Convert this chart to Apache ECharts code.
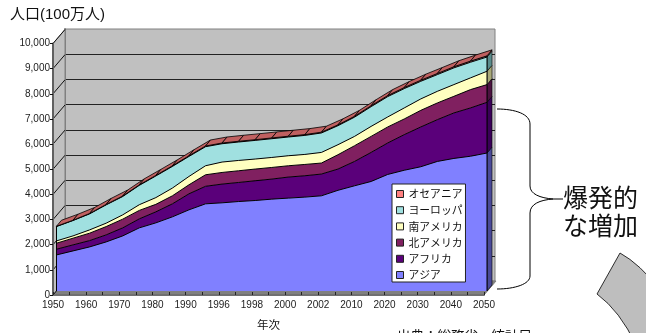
<!DOCTYPE html>
<html lang="ja">
<head>
<meta charset="utf-8">
<title>世界の人口推移</title>
<style>html,body{margin:0;padding:0;background:#fff}#chart{width:646px;height:333px}</style>
<script src="https://cdn.jsdelivr.net/npm/echarts@6/dist/echarts.min.js"></script>
</head>
<body>
<div id="chart"></div>
<script>
// 大陸別の人口（100万人）
const years = ['1950','1955','1960','1965','1970','1975','1980','1985','1990','1995','1996','1997','1998','1999','2000','2001','2002','2005','2010','2015','2020','2025','2030','2035','2040','2045','2050'];
const asia = [1434,1594,1753,1952,2191,2510,2709,2948,3227,3466,3506,3558,3598,3653,3693,3733,3785,4004,4183,4355,4633,4801,4940,5151,5271,5358,5486];
const africa = [227,239,251,279,319,359,438,518,637,697,745,757,785,797,837,849,865,845,968,1155,1251,1414,1582,1661,1809,1920,2016];
const northAmerica = [239,267,295,331,347,335,299,319,359,458,462,466,466,462,450,450,438,570,625,637,637,625,661,665,661,729,705];
const southAmerica = [92,92,131,135,171,227,267,307,331,359,414,410,398,398,398,398,422,398,371,398,398,438,454,462,466,466,530];
const europe = [570,610,637,729,729,769,861,861,797,757,729,733,741,745,745,757,773,757,765,785,809,769,701,665,665,622,566];
const oceania = [13,14,16,18,20,21,23,25,27,29,29,30,30,31,31,32,32,33,35,38,41,42,44,44,45,46,46];
const yTicks = [0,1000,2000,3000,4000,5000,6000,7000,8000,9000,10000];

const FONT = '"Liberation Sans","Noto Sans CJK JP",sans-serif';
const JP = '"Noto Sans CJK JP","Liberation Sans",sans-serif';

// 手前から奥の順に積み上げる
const layers = [
  {name:'アジア', values:asia, color:'#8080ff', side:'#4a4a98'},
  {name:'アフリカ', values:africa, color:'#5a007a', side:'#3a0058'},
  {name:'北アメリカ', values:northAmerica, color:'#802060', side:'#4c1240'},
  {name:'南アメリカ', values:southAmerica, color:'#ffffc0', side:'#a8a878'},
  {name:'ヨーロッパ', values:europe, color:'#a0e0e0', side:'#5a8c8c'},
  {name:'オセアニア', values:oceania, color:'#ff8080', side:'#a05050'}
];

const totals = years.map((_, i) => layers.reduce((s, l) => s + l.values[i], 0));

// 立体の奥行き（ピクセル）
const WALL_DEPTH = [12, -14];
const BAND_DEPTH = [5, -6];

// 注釈の曲線
echarts.graphic.registerShape('brace', echarts.graphic.extendShape({
  shape: {},
  buildPath(ctx) {
    ctx.moveTo(497, 109);
    ctx.bezierCurveTo(515, 109, 530, 114, 530, 124);
    ctx.lineTo(530, 186);
    ctx.bezierCurveTo(530, 194, 540, 198, 553, 199);
    ctx.lineTo(563, 199);
    ctx.moveTo(553, 199);
    ctx.bezierCurveTo(540, 200, 530, 204, 530, 213);
    ctx.lineTo(530, 276);
    ctx.bezierCurveTo(530, 284, 515, 289, 497, 289);
  }
}));
echarts.graphic.registerShape('arcBand', echarts.graphic.extendShape({
  shape: {},
  buildPath(ctx) {
    ctx.moveTo(620, 253);
    ctx.quadraticCurveTo(640, 264, 660, 290);
    ctx.lineTo(660, 345);
    ctx.lineTo(636, 345);
    ctx.quadraticCurveTo(620, 311, 597, 294);
    ctx.closePath();
  }
}));

const areaSeries = layers.map(l => ({
  name: l.name,
  type: 'line',
  stack: 'population',
  xAxisIndex: 2, yAxisIndex: 2,
  showSymbol: false,
  symbol: 'none',
  z: 5,
  lineStyle: {color:'#000', width:1},
  itemStyle: {color:l.color},
  areaStyle: {color:l.color, opacity:1},
  data: l.values
}));

// 左の壁の目盛り線
const wallSeries = {
  type: 'custom',
  xAxisIndex: 0, yAxisIndex: 0,
  z: 2,
  silent: true,
  data: yTicks.map(v => [0, v]),
  renderItem(params, api) {
    const p = api.coord([api.value(0), api.value(1)]);
    return {type:'line',
      shape:{x1:p[0], y1:p[1], x2:p[0]+WALL_DEPTH[0], y2:p[1]+WALL_DEPTH[1]},
      style:{stroke:'#111', lineWidth:1}};
  }
};

// 左の壁と床
const shellSeries = {
  type: 'custom',
  xAxisIndex: 0, yAxisIndex: 0,
  z: 1,
  silent: true,
  data: [[0, years.length-1]],
  renderItem(params, api) {
    const a = api.coord([0, 0]), b = api.coord([0, 10000]), c = api.coord([years.length-1, 0]);
    const d = WALL_DEPTH;
    return {type:'group', children:[
      {type:'polygon', shape:{points:[a,b,[b[0]+d[0],b[1]+d[1]],[a[0]+d[0],a[1]+d[1]]]},
        style:{fill:'#c0c0c0', stroke:'#808080', lineWidth:1}},
      {type:'polygon', shape:{points:[a,c,[c[0]+d[0],c[1]+d[1]],[a[0]+d[0],a[1]+d[1]]]},
        style:{fill:'#808080', stroke:'#808080', lineWidth:1}}
    ]};
  }
};

// 最上段の上面
const topSeries = {
  type: 'custom',
  xAxisIndex: 2, yAxisIndex: 2,
  z: 6,
  silent: true,
  data: totals.slice(0, -1).map((t, i) => [i, t, totals[i+1]]),
  renderItem(params, api) {
    const i = api.value(0);
    const p = api.coord([i, api.value(1)]), q = api.coord([i+1, api.value(2)]);
    const d = BAND_DEPTH;
    return {type:'polygon',
      shape:{points:[p,q,[q[0]+d[0],q[1]+d[1]],[p[0]+d[0],p[1]+d[1]]]},
      style:{fill:'#c06060', stroke:'#000', lineWidth:0.8}};
  }
};

// 2050年の右側面
let base = 0;
const sideData = layers.map((l, k) => {
  const row = [years.length-1, base, base + l.values[years.length-1], k];
  base = row[2];
  return row;
});
const sideSeries = {
  type: 'custom',
  xAxisIndex: 2, yAxisIndex: 2,
  z: 4,
  silent: true,
  data: sideData,
  renderItem(params, api) {
    const x = api.value(0);
    const p = api.coord([x, api.value(1)]), q = api.coord([x, api.value(2)]);
    const d = BAND_DEPTH;
    return {type:'polygon',
      shape:{points:[p,q,[q[0]+d[0],q[1]+d[1]],[p[0]+d[0],p[1]+d[1]]]},
      style:{fill:layers[api.value(3)].side, stroke:'#000', lineWidth:0.6}};
  }
};

// 左右の端の縦線
const edgeSeries = {
  type: 'custom',
  xAxisIndex: 2, yAxisIndex: 2,
  z: 7,
  silent: true,
  data: [[0, totals[0]], [years.length-1, totals[years.length-1]]],
  renderItem(params, api) {
    const x = api.value(0);
    const p = api.coord([x, 0]), q = api.coord([x, api.value(1)]);
    return {type:'line', shape:{x1:p[0], y1:p[1], x2:q[0], y2:q[1]},
      style:{stroke:'#000', lineWidth:1}};
  }
};

const chart = echarts.init(document.getElementById('chart'), null, {renderer:'canvas'});
chart.setOption({
  animation: false,
  backgroundColor: '#fff',
  title: {
    text: '人口(100万人)', left: 5, top: 2,
    textStyle: {fontFamily:FONT, fontSize:15, fontWeight:'normal', color:'#111'}
  },
  legend: {
    orient: 'vertical',
    left: 392, top: 184,
    itemWidth: 7, itemHeight: 7, itemGap: 4.2,
    padding: [4, 3, 1, 4],
    backgroundColor: '#fff',
    borderColor: '#222', borderWidth: 1,
    borderRadius: 0,
    align: 'left',
    z: 20,
    selectedMode: false,
    textStyle: {fontFamily:JP, fontSize:10.8, color:'#111', lineHeight:12},
    data: layers.slice().reverse().map(l => ({
      name: l.name, icon: 'rect',
      itemStyle: {color:l.color, borderColor:'#222', borderWidth:1}
    }))
  },
  grid: [
    {left:53, top:43.5, width:431, height:251.5, outerBoundsMode:'none'},
    {left:65, top:29, width:430, height:252, outerBoundsMode:'none', show:true, backgroundColor:'#c0c0c0', borderColor:'#808080', borderWidth:1},
    {left:56.5, top:39.5, width:430.5, height:251.5, outerBoundsMode:'none'}
  ],
  xAxis: [
    {gridIndex:0, type:'category', boundaryGap:false, data:years, z:3,
     name:'年次', nameLocation:'middle', nameGap:24,
     nameTextStyle:{fontFamily:JP, fontSize:11.5, color:'#111'},
     axisLine:{lineStyle:{color:'#707070', width:2}},
     axisTick:{show:true, inside:true, length:3, interval:0, lineStyle:{color:'#222'}},
     axisLabel:{interval:1, fontFamily:FONT, fontSize:10, color:'#222', margin:5, hideOverlap:false},
     splitLine:{show:false}},
    {gridIndex:1, type:'category', boundaryGap:false, data:years, show:false},
    {gridIndex:2, type:'category', boundaryGap:false, data:years, show:false}
  ],
  yAxis: [
    {gridIndex:0, type:'value', min:0, max:10000, interval:1000, z:3,
     axisLine:{show:true, lineStyle:{color:'#606060', width:2}},
     axisTick:{show:true, length:3, lineStyle:{color:'#111'}},
     axisLabel:{fontFamily:FONT, fontSize:10, color:'#222', margin:3},
     splitLine:{show:false}},
    {gridIndex:1, type:'value', min:0, max:10000, interval:1000,
     axisLine:{show:true, lineStyle:{color:'#808080', width:2}}, axisTick:{show:false}, axisLabel:{show:false},
     splitLine:{show:true, showMinLine:false, showMaxLine:false, lineStyle:{color:'#222', width:1}}},
    {gridIndex:2, type:'value', min:0, max:10000, show:false}
  ],
  series: [shellSeries, wallSeries, sideSeries].concat(areaSeries, [topSeries, edgeSeries]),
  graphic: [
    {type:'brace', z:30, silent:true, shape:{},
     style:{fill:null, stroke:'#000', lineWidth:1}},
    {type:'text', z:30, x:563, y:197,
     style:{text:'爆発的', font:'25px '+JP, fill:'#111', verticalAlign:'middle'}},
    {type:'text', z:30, x:563, y:225,
     style:{text:'な増加', font:'25px '+JP, fill:'#111', verticalAlign:'middle'}},
    {type:'arcBand', z:30, silent:true, shape:{},
     style:{fill:'#bebebe', stroke:'#000', lineWidth:0.8}},
    {type:'text', z:30, x:397, y:336,
     style:{text:'出典：総務省　統計局', font:'13.5px '+JP, fill:'#111', verticalAlign:'middle'}}
  ]
});
</script>
</body>
</html>
